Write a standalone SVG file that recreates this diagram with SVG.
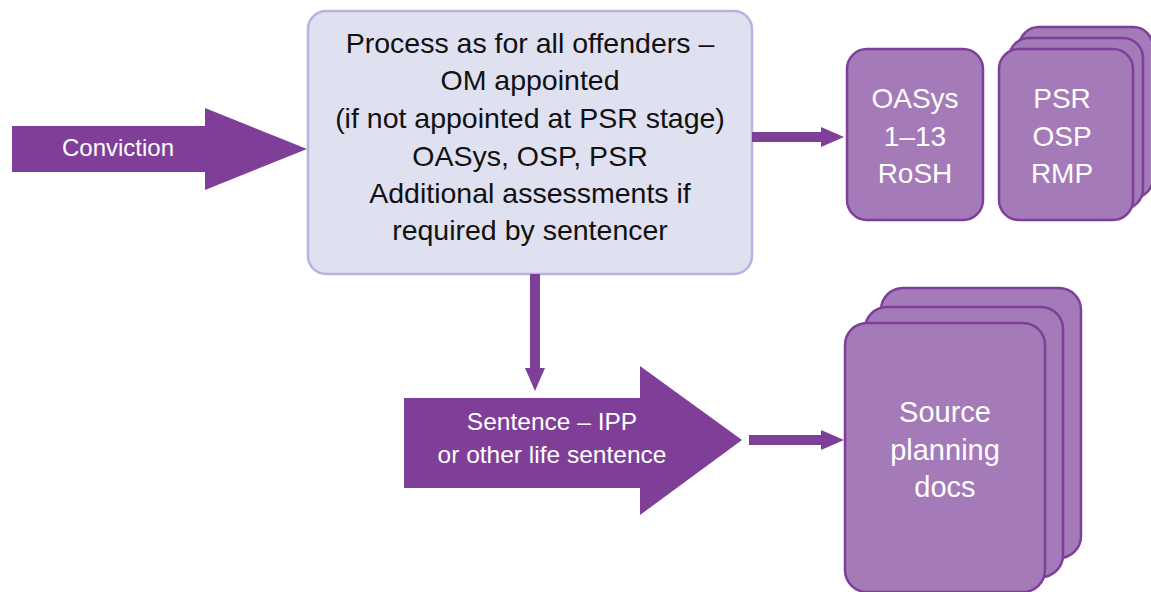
<svg xmlns="http://www.w3.org/2000/svg" width="1151" height="592" viewBox="0 0 1151 592">
<style>
.arrow{fill:#7f3f98}
.doc{fill:#a57ab8;stroke:#7e3f98;stroke-width:2.5}
.main{fill:#dfe0f0;stroke:#b3b5de;stroke-width:2.5}
.wt{fill:#ffffff;font-family:"Liberation Sans",Arial,sans-serif;text-anchor:middle}
.bt{fill:#111111;font-family:"Liberation Sans",Arial,sans-serif;text-anchor:middle;font-size:28.5px}
.conn{stroke:#7f3f98;stroke-width:10;fill:none}
</style>
<defs>
<marker id="ah" markerUnits="userSpaceOnUse" markerWidth="24" markerHeight="20" refX="1" refY="10" orient="auto" overflow="visible">
<path d="M0,0 L23,10 L0,20 Z" fill="#7f3f98"/>
</marker>
</defs>
<g id="conviction">
<path class="arrow" d="M12,126 L205,126 L205,108 L307,149 L205,190 L205,172 L12,172 Z"/>
<text class="wt" x="118" y="156" font-size="24">Conviction</text>
</g>
<g id="process">
<rect class="main" x="308" y="11" width="444" height="263" rx="18"/>
<text class="bt" x="530" y="53">Process as for all offenders –</text>
<text class="bt" x="530" y="90">OM appointed</text>
<text class="bt" x="530" y="128">(if not appointed at PSR stage)</text>
<text class="bt" x="530" y="166">OASys, OSP, PSR</text>
<text class="bt" x="530" y="203">Additional assessments if</text>
<text class="bt" x="530" y="240">required by sentencer</text>
</g>
<g id="oasys">
<rect class="doc" x="847" y="49" width="136" height="171" rx="20"/>
<text class="wt" x="915" y="108" font-size="28">OASys</text>
<text class="wt" x="915" y="146" font-size="28">1–13</text>
<text class="wt" x="915" y="183" font-size="28">RoSH</text>
</g>
<g id="psr">
<rect class="doc" x="1019" y="27" width="134" height="171" rx="20"/>
<rect class="doc" x="1009" y="38" width="134" height="171" rx="20"/>
<rect class="doc" x="999" y="49" width="134" height="171" rx="20"/>
<text class="wt" x="1062" y="108" font-size="28">PSR</text>
<text class="wt" x="1062" y="146" font-size="28">OSP</text>
<text class="wt" x="1062" y="183" font-size="28">RMP</text>
</g>
<g id="sentence">
<path class="arrow" d="M404,398 L640,398 L640,366 L742,440 L640,515 L640,488 L404,488 Z"/>
<text class="wt" x="552" y="430" font-size="24.5">Sentence – IPP</text>
<text class="wt" x="552" y="463" font-size="24.5">or other life sentence</text>
</g>
<g id="source">
<rect class="doc" x="881" y="288" width="200" height="270" rx="22"/>
<rect class="doc" x="865" y="307" width="198" height="270" rx="22"/>
<rect class="doc" x="845" y="323" width="200" height="269" rx="22"/>
<text class="wt" x="945" y="422" font-size="29">Source</text>
<text class="wt" x="945" y="460" font-size="29">planning</text>
<text class="wt" x="945" y="497" font-size="29">docs</text>
</g>
<g id="connectors">
<line class="conn" x1="752" y1="137" x2="822" y2="137" marker-end="url(#ah)"/>
<line class="conn" x1="535" y1="274" x2="535" y2="369" marker-end="url(#ah)"/>
<line class="conn" x1="749" y1="440" x2="822" y2="440" marker-end="url(#ah)"/>
</g>
</svg>
